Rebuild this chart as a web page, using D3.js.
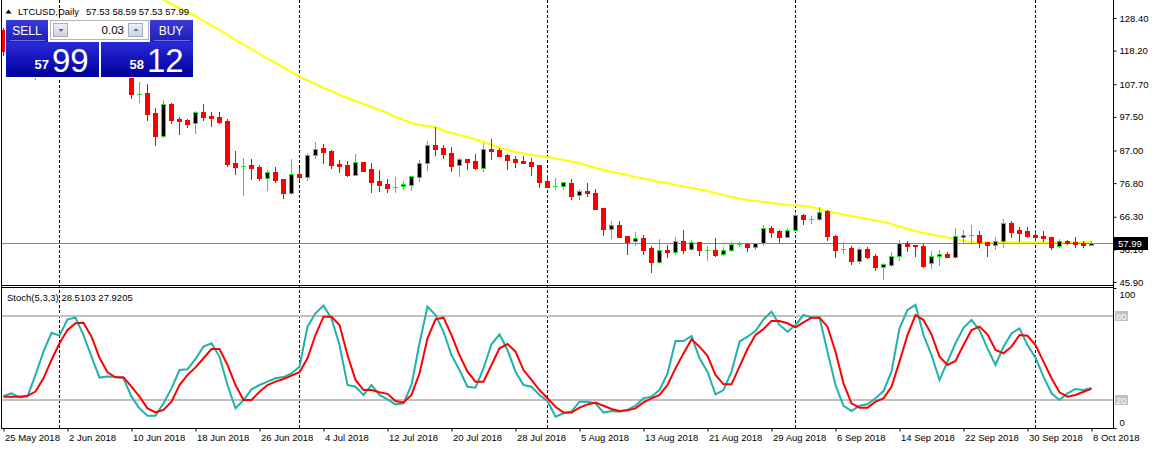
<!DOCTYPE html>
<html><head><meta charset="utf-8">
<script src="https://cdn.jsdelivr.net/npm/d3@7"></script>
<style>
html,body{margin:0;padding:0;background:#fff;overflow:hidden}
svg{display:block;font-family:"Liberation Sans",Arial,sans-serif}
</style></head><body>
<svg id="chart" width="1153" height="449"></svg>
<script>
// ---------- DATA ----------
const symbolTitle = "LTCUSD,Daily";
const lastOHLC = "57.53 58.59 57.53 57.99";
const stochTitle = "Stoch(5,3,3) 28.5103 27.9205";
const firstDay = "2018-05-25";
const lastDay = "2018-10-08";

const openPrices = [124.6,118.0,119.8,116.4,112.0,117.6,116.8,119.5,120.5,122.7,124.8,119.2,120.6,120.1,119.4,117.0,
116.2,104.6,105.0,98.7,91.5,101.6,96.9,96.5,95.5,99.0,97.8,97.5,96.2,83.1,82.1,82.5,81.8,78.5,80.3,78.1,73.7,79.65,
78.8,85.6,87.8,86.8,82.8,82.5,79.3,83.4,81.2,77.5,76.5,75.6,75.8,76.3,78.8,83.0,88.7,87.8,86.2,82.5,84.3,83.7,81.5,
87.5,87.1,85.6,84.3,83.7,83.4,82.5,77.5,75.9,75.9,76.9,73.1,74.3,73.7,69.0,62.5,63.7,60.3,58.7,59.65,56.5,52.15,
55.9,55.3,58.7,56.2,58.4,55.9,55.9,54.5,55.9,57.8,57.8,56.8,58.1,62.8,61.8,59.9,62.2,66.8,65.5,65.5,68.1,60.3,56.2,
56.5,52.5,56.2,54.0,50.6,51.2,54.0,58.1,57.5,57.2,51.8,54.0,54.65,53.7,60.0,60.6,60.6,58.4,57.5,58.7,64.3,62.2,61.7,
60.7,60.3,60.0,57.2,58.7,58.4,58.0,57.53];
const highPrices = [125.3,121.5,120.2,117.5,118.5,119.8,120.5,121.6,123.8,126.0,125.4,121.5,122.0,121.5,120.0,118.2,
116.6,108.4,107.8,100.3,102.8,101.9,97.4,96.9,99.3,101.5,99.0,99.0,96.8,86.8,84.65,84.3,82.5,80.9,81.8,78.1,84.3,81.5,
86.2,89.65,89.0,87.1,84.0,83.7,85.9,83.4,83.1,80.9,78.1,78.7,77.5,79.0,84.0,90.0,94.3,88.7,88.1,84.65,84.3,85.9,89.35,
90.6,87.8,85.9,85.3,85.3,84.65,82.5,79.3,78.4,77.2,78.1,74.9,76.9,74.9,69.0,65.0,65.0,60.3,61.5,60.6,57.15,59.3,
57.5,60.0,62.2,59.0,58.4,57.15,59.65,56.8,58.4,58.4,58.1,58.0,63.7,63.4,62.2,62.8,67.8,67.2,66.5,69.35,68.4,60.6,58.4,
57.15,56.8,56.8,54.65,51.8,55.3,59.0,58.7,57.5,57.8,55.6,55.9,55.3,62.8,62.2,63.7,61.8,58.4,59.9,65.6,65.0,63.1,63.1,
62.2,61.8,60.0,59.3,59.0,60.0,58.7,58.59];
const lowPrices = [116.8,116.5,115.5,111.2,109.2,115.8,116.0,117.3,119.6,121.5,118.2,116.8,118.3,118.6,116.0,114.8,
103.4,102.2,96.5,88.8,91.2,95.6,92.1,94.4,92.6,96.5,94.7,95.6,82.1,79.65,73.1,78.1,77.8,74.65,77.2,72.1,73.4,77.8,
77.8,84.65,83.1,81.5,80.3,79.0,79.3,80.7,74.0,74.3,74.0,74.0,75.0,74.65,77.5,80.9,85.6,84.65,80.6,79.0,81.2,81.2,80.6,
84.3,85.3,81.2,81.8,83.1,79.3,75.6,75.6,75.0,75.0,71.8,71.8,72.8,68.8,60.6,59.65,60.0,54.7,57.5,54.65,49.0,51.8,
53.7,54.65,55.0,55.9,54.3,52.8,54.0,54.3,55.6,57.2,55.6,56.2,57.5,60.0,58.4,59.9,61.8,63.9,64.3,65.2,59.0,53.7,55.0,
51.5,51.8,53.4,49.65,46.9,50.9,52.8,55.6,54.0,50.6,50.3,51.2,53.7,53.4,58.1,58.4,56.8,54.0,56.2,56.8,60.0,58.7,60.0,
59.0,58.7,56.2,56.8,57.8,56.8,56.8,57.53];
const closePrices = [118.0,119.8,116.4,112.0,117.6,116.8,119.5,120.5,122.7,124.8,119.2,120.6,120.1,119.4,117.0,116.2,
104.6,104.6,98.5,91.5,101.4,96.5,96.3,95.3,98.9,97.6,97.2,95.9,82.8,81.9,82.1,81.6,78.4,80.3,77.8,73.7,79.65,78.7,
85.6,87.5,86.5,82.5,82.1,79.3,83.4,80.7,77.2,76.2,75.4,75.6,76.5,79.0,83.1,88.7,87.5,85.9,82.1,84.3,83.4,81.5,87.5,
86.8,85.3,84.0,83.4,83.1,82.2,77.2,75.6,75.9,77.2,72.8,74.3,73.6,68.8,62.5,63.7,60.0,58.4,59.65,55.9,52.15,55.9,
55.3,58.7,55.9,58.4,55.9,55.9,54.3,55.8,57.8,57.8,56.8,58.0,62.8,61.5,59.9,62.2,66.8,65.5,65.5,67.9,60.3,55.9,56.2,
52.5,56.2,53.7,50.6,51.5,54.0,58.1,57.2,57.2,50.9,54.0,54.65,53.7,60.3,60.6,60.6,58.4,57.5,58.7,64.3,61.5,61.2,60.3,
60.1,59.75,56.8,58.7,58.1,57.8,57.6,57.99];

const maStartIndex = 20;
const maValues = [134.03,132.78,131.53,130.28,129.03,127.46,126.06,124.65,123.09,121.53,120.12,118.71,117.15,115.74,
114.34,112.93,111.53,110.12,108.87,107.78,106.53,105.59,104.34,103.40,102.46,101.53,100.59,99.65,98.71,97.46,96.53,
95.59,94.96,94.65,94.18,93.24,92.46,91.84,91.21,90.43,89.65,88.87,87.93,87.15,86.53,86.06,85.59,85.28,84.96,84.49,
84.03,83.56,83.09,82.31,81.53,80.90,80.28,79.81,79.34,78.71,78.24,77.78,77.15,76.84,76.21,75.74,75.28,74.81,74.34,
73.71,73.09,72.46,71.99,71.53,71.21,70.90,70.59,70.28,69.96,69.81,69.65,69.34,68.71,67.93,67.46,66.99,66.53,66.06,
65.59,65.12,64.65,64.03,63.24,62.46,61.84,61.21,60.74,60.28,59.81,59.34,58.71,58.40,58.35,58.32,58.30,58.30,58.30,
58.30,58.30,58.30,58.32,58.34,58.36,58.38,58.40,58.42,58.45];

const stochMain = [22.9,24.8,21.9,22.4,37.9,54.5,68.0,66.0,77.6,78.8,66.4,51.0,36.0,36.7,36.4,35.5,22.4,14.0,8.8,8.8,
17.6,28.3,41.4,41.9,49.3,58.1,60.5,51.0,30.7,14.0,20.0,27.6,30.7,33.1,35.5,36.4,39.0,43.8,72.4,81.9,87.4,78.3,59.3,
30.7,29.5,23.6,30.7,23.6,20.5,16.9,17.6,30.7,60.5,86.7,80.7,68.8,52.1,41.4,29.5,28.8,42.6,59.8,66.9,55.7,40.2,30.7,
29.5,23.6,19.3,8.1,10.5,11.7,18.8,18.8,17.6,11.0,12.1,11.7,12.9,15.9,21.2,22.4,27.1,39.0,62.1,62.1,65.7,49.8,40.2,
24.0,27.1,40.2,61.7,65.2,69.3,77.5,83.1,73.6,68.8,73.6,80.7,79.0,79.0,54.5,30.7,15.9,12.1,15.9,16.9,21.2,26.4,40.2,
71.2,84.3,87.9,66.4,52.1,34.3,47.4,60.5,71.6,77.1,70.0,56.9,45.0,58.1,67.6,71.2,59.3,50.2,36.7,24.8,20.0,24.8,27.9,
27.1,28.51];
const stochSignal = [22.4,22.4,22.4,23.0,26.0,35.5,48.6,60.5,70.0,74.8,75.2,65.2,50.2,39.8,36.2,36.2,29.5,22.4,14.0,
11.2,12.9,18.8,30.7,37.9,43.3,49.8,56.4,56.4,45.0,30.7,20.0,20.0,25.9,30.7,33.1,35.0,37.4,39.8,49.8,66.4,79.5,79.5,
73.6,52.1,34.3,27.1,27.1,25.5,24.4,19.3,18.3,23.6,39.0,64.0,77.6,78.8,66.4,52.1,40.2,33.1,33.1,45.0,56.9,60.0,54.5,
41.4,34.3,27.1,21.2,15.2,11.0,11.0,14.5,16.9,18.1,15.9,13.6,12.1,12.6,14.0,18.3,21.2,23.6,30.7,42.6,53.3,63.3,58.1,
51.6,37.9,31.2,31.2,43.8,56.4,66.4,70.7,76.4,76.4,74.8,71.9,75.5,78.8,78.8,72.4,54.5,31.9,17.6,14.5,14.5,18.8,21.2,
29.5,47.4,66.4,80.7,77.1,66.9,51.0,45.0,47.9,59.3,70.0,72.4,66.9,55.7,53.3,58.1,66.4,65.9,59.3,47.4,35.5,25.5,22.4,
23.6,25.9,27.92];
const stochLevels = [80, 20];
const stochAxisTicks = [100, 0];

const priceTicks = [128.40,118.20,107.70,97.50,87.00,76.80,66.30,56.10,45.90];
const dateLabels = ["25 May 2018","2 Jun 2018","10 Jun 2018","18 Jun 2018","26 Jun 2018","4 Jul 2018","12 Jul 2018",
"20 Jul 2018","28 Jul 2018","5 Aug 2018","13 Aug 2018","21 Aug 2018","29 Aug 2018","6 Sep 2018","14 Sep 2018",
"22 Sep 2018","30 Sep 2018","8 Oct 2018"];
const separatorDays = ["2018-06-01","2018-07-01","2018-08-01","2018-09-01","2018-10-01"];
const bidPrice = 57.99;
const sellQuote = ["57","99"], buyQuote = ["58","12"], lotSize = "0.03";

// ---------- SETUP ----------
const parseIso = d3.utcParse("%Y-%m-%d");
const parseLabel = d3.utcParse("%d %b %Y");
const days = d3.utcDay.range(parseIso(firstDay), d3.utcDay.offset(parseIso(lastDay), 1));
const bars = days.map((d, i) => ({date: d, o: openPrices[i], h: highPrices[i], l: lowPrices[i], c: closePrices[i]}));

const L = 2, R = 1113;
const mainTop = 0, mainBottom = 284;
const subTop = 288, subBottom = 428;

const x = d3.scaleUtc().domain([days[0], days[days.length - 1]]).range([3.5, 1091.5]);
const y = d3.scaleLinear().domain([45.90, 128.40]).range([282, 18]);
const ys = d3.scaleLinear().domain([0, 100]).range([428, 288]);

const svg = d3.select("#chart");
const defs = svg.append("defs");
defs.append("clipPath").attr("id", "clipMain").append("rect")
  .attr("x", L).attr("y", mainTop).attr("width", R - L).attr("height", mainBottom - mainTop);
defs.append("clipPath").attr("id", "clipSub").append("rect")
  .attr("x", L).attr("y", subTop).attr("width", R - L).attr("height", subBottom - subTop);

svg.append("rect").attr("width", 1153).attr("height", 449).attr("fill", "#fff");

const snap = v => Math.round(v) + 0.5;

// period separators
const sep = svg.append("g");
separatorDays.forEach(s => {
  const xx = snap(x(parseIso(s)) - 0.5);
  sep.append("line").attr("x1", xx).attr("x2", xx).attr("y1", 0).attr("y2", subBottom)
    .attr("stroke", "#000").attr("stroke-width", 1).attr("stroke-dasharray", "3,2");
});

// ---------- MAIN WINDOW ----------
const main = svg.append("g").attr("clip-path", "url(#clipMain)");

// bid line
main.append("line").attr("x1", L).attr("x2", R)
  .attr("y1", snap(y(bidPrice) - 0.5)).attr("y2", snap(y(bidPrice) - 0.5))
  .attr("stroke", "#778899").attr("stroke-width", 1);

// moving average
const maLine = d3.line().x((v, i) => x(days[i + maStartIndex])).y(v => y(v));
main.append("path").datum(maValues).attr("d", maLine)
  .attr("fill", "none").attr("stroke", "#FFFF00").attr("stroke-width", 2);

// candles
const cg = main.append("g");
bars.forEach(b => {
  const cx = x(b.date);
  const up = b.c > b.o, dn = b.c < b.o;
  const col = dn ? "#FF0000" : "#00FF00";
  const yh = Math.round(y(b.h)), yl = Math.round(y(b.l));
  cg.append("line").attr("x1", cx).attr("x2", cx).attr("y1", yh).attr("y2", yl + 1)
    .attr("stroke", col).attr("stroke-width", 1);
  const yt = Math.round(y(Math.max(b.o, b.c))), yb = Math.round(y(Math.min(b.o, b.c)));
  if (dn) {
    cg.append("rect").attr("x", cx - 2.5).attr("y", yt).attr("width", 5).attr("height", Math.max(1, yb - yt + 1))
      .attr("fill", "#FF0000");
  } else if (up) {
    if (yb - yt < 2) {
      cg.append("rect").attr("x", cx - 2.5).attr("y", yt).attr("width", 5).attr("height", Math.max(1, yb - yt + 1))
        .attr("fill", "#00FF00");
    } else {
      cg.append("rect").attr("x", cx - 2).attr("y", yt + 0.5).attr("width", 4).attr("height", yb - yt)
        .attr("fill", "#000").attr("stroke", "#00FF00").attr("stroke-width", 1);
    }
  } else {
    cg.append("line").attr("x1", cx - 2.5).attr("x2", cx + 2.5).attr("y1", yt + 0.5).attr("y2", yt + 0.5)
      .attr("stroke", "#00FF00").attr("stroke-width", 1);
  }
});

// ---------- SUB WINDOW ----------
const sub = svg.append("g").attr("clip-path", "url(#clipSub)");
stochLevels.forEach(v => {
  sub.append("line").attr("x1", L).attr("x2", R).attr("y1", ys(v)).attr("y2", ys(v))
    .attr("stroke", "#C0C0C0").attr("stroke-width", 2);
});
const sLine = d3.line().x((v, i) => x(days[i])).y(v => ys(v));
sub.append("path").datum(stochMain).attr("d", sLine)
  .attr("fill", "none").attr("stroke", "#20B2AA").attr("stroke-width", 2);
sub.append("path").datum(stochSignal).attr("d", sLine)
  .attr("fill", "none").attr("stroke", "#FF0000").attr("stroke-width", 2);

// ---------- FRAMES ----------
const frame = svg.append("g").attr("stroke", "#000").attr("stroke-width", 1);
frame.append("line").attr("x1", 1.5).attr("x2", 1.5).attr("y1", 0).attr("y2", 429);
frame.append("line").attr("x1", R + 0.5).attr("x2", R + 0.5).attr("y1", 0).attr("y2", 429);
frame.append("line").attr("x1", 1).attr("x2", R + 1).attr("y1", 285.5).attr("y2", 285.5);
frame.append("line").attr("x1", 1).attr("x2", R + 1).attr("y1", 287.5).attr("y2", 287.5);
frame.append("line").attr("x1", 1).attr("x2", R + 1).attr("y1", 428.5).attr("y2", 428.5);

const fontSz = "9.5px";
// price axis
const pAxis = svg.append("g").attr("transform", `translate(${R + 0.5},0)`)
  .call(d3.axisRight(y).tickValues(priceTicks).tickSize(3).tickSizeOuter(0).tickPadding(3)
    .tickFormat(d3.format(".2f")));
pAxis.select(".domain").remove();
pAxis.selectAll("text").attr("font-size", fontSz).attr("font-family", "'Liberation Sans',Arial,sans-serif").attr("fill", "#000");
pAxis.selectAll("line").attr("stroke", "#000");

// bid label
const by = y(bidPrice);
svg.append("rect").attr("x", R + 1).attr("y", Math.round(by) - 6).attr("width", 34).attr("height", 13).attr("fill", "#000");
svg.append("text").attr("x", R + 5).attr("y", Math.round(by) + 4).attr("font-size", fontSz).attr("fill", "#fff")
  .text(d3.format(".2f")(bidPrice));

// stoch axis
const sAxis = svg.append("g").attr("transform", `translate(${R + 0.5},0)`)
  .call(d3.axisRight(ys).tickValues(stochAxisTicks).tickSize(3).tickSizeOuter(0).tickPadding(3));
sAxis.select(".domain").remove();
sAxis.selectAll("line").attr("stroke", "#000");
sAxis.selectAll("text").attr("font-size", fontSz).attr("fill", "#000")
  .attr("dy", d => d === 100 ? "1.05em" : "-0.25em");
stochLevels.forEach(v => {
  svg.append("rect").attr("x", R + 2).attr("y", ys(v) - 5).attr("width", 13).attr("height", 10).attr("fill", "#C0C0C0");
  svg.append("text").attr("x", R + 3).attr("y", ys(v) + 3.5).attr("font-size", fontSz).attr("fill", "#fff").text(v);
});

// time axis
const tAxis = svg.append("g").attr("transform", `translate(0,${subBottom + 0.5})`)
  .call(d3.axisBottom(x).tickValues(dateLabels.map(parseLabel)).tickSize(3).tickSizeOuter(0)
    .tickFormat((d, i) => dateLabels[i]));
tAxis.select(".domain").remove();
tAxis.selectAll("line").attr("stroke", "#000");
tAxis.selectAll("text").attr("font-size", fontSz).attr("fill", "#000").attr("text-anchor", "start")
  .attr("x", 1).attr("y", 6).attr("dy", "0.71em");

// titles
svg.append("path").attr("d", "M5.5,13.5 L11.5,13.5 L8.5,9.5 Z").attr("fill", "#000");
svg.append("text").attr("x", 18).attr("y", 15).attr("font-size", fontSz).attr("fill", "#000").text(symbolTitle);
svg.append("text").attr("x", 86).attr("y", 15).attr("font-size", fontSz).attr("fill", "#000").text(lastOHLC);
svg.append("text").attr("x", 7).attr("y", 300.5).attr("font-size", fontSz).attr("fill", "#000").text(stochTitle);

// ---------- ONE-CLICK PANEL ----------
const hg = defs.append("linearGradient").attr("id", "hdr").attr("x1", 0).attr("y1", 0).attr("x2", 0).attr("y2", 1);
hg.append("stop").attr("offset", "0").attr("stop-color", "#3a3ad6");
hg.append("stop").attr("offset", "1").attr("stop-color", "#1e1eb8");
const bg = defs.append("linearGradient").attr("id", "box").attr("x1", 0).attr("y1", 0).attr("x2", 0).attr("y2", 1);
bg.append("stop").attr("offset", "0").attr("stop-color", "#2a2ad8");
bg.append("stop").attr("offset", "0.5").attr("stop-color", "#1414bc");
bg.append("stop").attr("offset", "1").attr("stop-color", "#00009a");
const bt = defs.append("linearGradient").attr("id", "btn").attr("x1", 0).attr("y1", 0).attr("x2", 0).attr("y2", 1);
bt.append("stop").attr("offset", "0").attr("stop-color", "#eef1f7");
bt.append("stop").attr("offset", "1").attr("stop-color", "#c9d1e0");

const pnl = svg.append("g");
pnl.append("rect").attr("x", 5).attr("y", 19).attr("width", 189).attr("height", 59).attr("fill", "#fff");
pnl.append("rect").attr("x", 6).attr("y", 20).attr("width", 42).attr("height", 22).attr("fill", "url(#hdr)");
pnl.append("rect").attr("x", 150).attr("y", 20).attr("width", 43).attr("height", 22).attr("fill", "url(#hdr)");
pnl.append("line").attr("x1", 10).attr("x2", 45).attr("y1", 40.5).attr("y2", 40.5).attr("stroke", "#7070e0");
pnl.append("line").attr("x1", 154).attr("x2", 190).attr("y1", 40.5).attr("y2", 40.5).attr("stroke", "#7070e0");
pnl.append("text").attr("x", 27).attr("y", 35).attr("text-anchor", "middle").attr("font-size", "12px").attr("fill", "#fff").text("SELL");
pnl.append("text").attr("x", 171).attr("y", 35).attr("text-anchor", "middle").attr("font-size", "12px").attr("fill", "#fff").text("BUY");
pnl.append("rect").attr("x", 50.5).attr("y", 20.5).attr("width", 98).attr("height", 19).attr("fill", "#fff").attr("stroke", "#b4b4b4");
pnl.append("rect").attr("x", 53.5).attr("y", 23.5).attr("width", 14).attr("height", 13).attr("fill", "url(#btn)").attr("stroke", "#a3acbd");
pnl.append("rect").attr("x", 128.5).attr("y", 23.5).attr("width", 14).attr("height", 13).attr("fill", "url(#btn)").attr("stroke", "#a3acbd");
pnl.append("path").attr("d", "M58.5,29 L63.5,29 L61,32 Z").attr("fill", "#5a6a96");
pnl.append("path").attr("d", "M133.5,31 L138.5,31 L136,28 Z").attr("fill", "#5a6a96");
pnl.append("text").attr("x", 124).attr("y", 34).attr("text-anchor", "end").attr("font-size", "11.5px").attr("fill", "#000").text(lotSize);
pnl.append("rect").attr("x", 6).attr("y", 42).attr("width", 93).attr("height", 35).attr("fill", "url(#box)");
pnl.append("rect").attr("x", 101).attr("y", 42).attr("width", 92).attr("height", 35).attr("fill", "url(#box)");
pnl.append("text").attr("x", 49).attr("y", 68.5).attr("text-anchor", "end").attr("font-size", "13px").attr("font-weight", "bold").attr("fill", "#fff").text(sellQuote[0]);
pnl.append("text").attr("x", 52).attr("y", 71.5).attr("font-size", "33px").attr("fill", "#fff").text(sellQuote[1]);
pnl.append("text").attr("x", 144).attr("y", 68.5).attr("text-anchor", "end").attr("font-size", "13px").attr("font-weight", "bold").attr("fill", "#fff").text(buyQuote[0]);
pnl.append("text").attr("x", 147).attr("y", 71.5).attr("font-size", "33px").attr("fill", "#fff").text(buyQuote[1]);
</script>
</body></html>
